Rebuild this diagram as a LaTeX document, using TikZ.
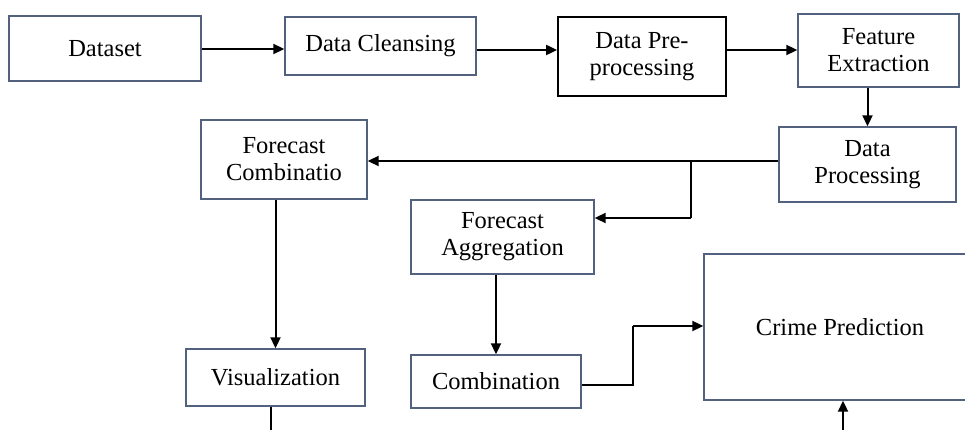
\documentclass[tikz,border=0pt]{standalone}
\usepackage{fontspec}
\setmainfont{Liberation Serif}
\usetikzlibrary{arrows.meta,calc}
\definecolor{boxline}{HTML}{52627E}
\begin{document}
\begin{tikzpicture}[x=1pt,y=-1pt,
  box/.style={draw=boxline,line width=1.4pt,fill=white,rectangle,align=center,
    inner sep=2pt,font=\fontsize{24.5}{27}\selectfont},
  blackbox/.style={box,draw=black,line width=1.8pt},
  conn/.style={line width=2pt,-{Triangle[length=11pt,width=10pt]}},
  thinline/.style={line width=1.1pt}]
\useasboundingbox (0,0) rectangle (965,430);
\clip (0,0) rectangle (965,430);
% nodes
\node[box,minimum width=192pt,minimum height=65pt] (dataset) at (105,48.5) {Dataset};
\node[box,minimum width=191pt,minimum height=58pt] (cleansing) at (380.5,46) {Data Cleansing};
\node[blackbox,minimum width=168pt,minimum height=79pt] (prepro) at (642,56.5) {Data Pre-\\processing};
\node[box,minimum width=161pt,minimum height=73pt] (feature) at (878.5,50.5) {Feature\\Extraction};
\node[box,minimum width=177pt,minimum height=75pt] (dataproc) at (867.5,164.5) {Data\\Processing};
\node[box,minimum width=166pt,minimum height=79pt] (fcomb) at (284,159.5) {Forecast\\Combinatio};
\node[box,minimum width=183pt,minimum height=74pt] (fagg) at (502.5,237) {Forecast\\Aggregation};
\node[box,minimum width=272pt,minimum height=146pt] (crime) at (840,327) {Crime Prediction};
\node[box,minimum width=179pt,minimum height=57pt] (vis) at (275.5,377.5) {Visualization};
\node[box,minimum width=170pt,minimum height=53pt] (comb) at (496,381.5) {Combination};
% helper coordinates
\coordinate (j1) at (691,161);
\coordinate (j2) at (691,218);
\coordinate (j3) at (633,385);
\coordinate (j4) at (633,326);
\coordinate (visout) at (271,430);
\coordinate (crimein) at (843,430);
% connectors
\draw[conn] (dataset.east |- 0,49) -- (cleansing.west |- 0,49);
\draw[conn] (cleansing.east |- 0,50) -- (prepro.west |- 0,50);
\draw[conn] (prepro.east |- 0,50) -- (feature.west |- 0,50);
\draw[conn] (dataproc.north |- feature.south) -- (dataproc.north);
\draw[thinline] (dataproc.west |- j1) -- (j1) -- (j2);
\draw[conn] (j1) -- (j1 -| fcomb.east);
\draw[conn] (j2) -- (j2 -| fagg.east);
\draw[conn] (vis.north |- fcomb.south) -- (vis.north);
\draw[conn] (comb.north |- fagg.south) -- (comb.north);
\draw[thinline] (comb.east |- j3) -- (j3) -- (j4);
\draw[conn] (j4) -- (j4 -| crime.west);
\draw[thinline] (visout |- vis.south) -- (visout);
\draw[conn] (crimein) -- (crimein |- crime.south);
\end{tikzpicture}
\end{document}
